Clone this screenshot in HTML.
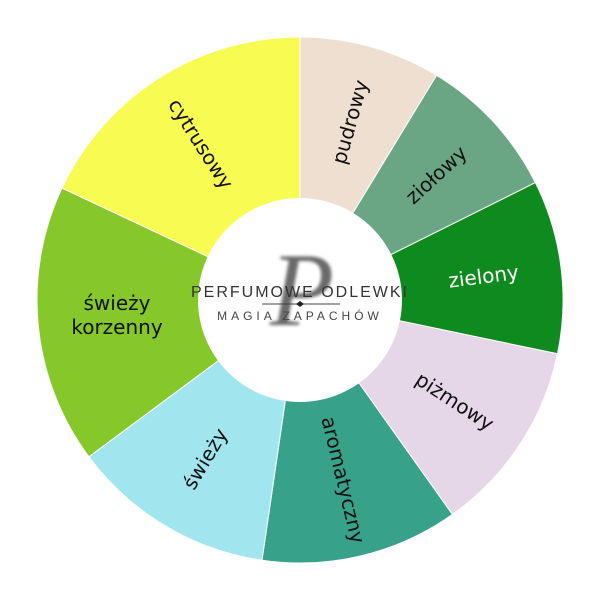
<!DOCTYPE html>
<html><head><meta charset="utf-8"><style>html,body{margin:0;padding:0;background:#fff}svg{display:block}</style></head>
<body>
<svg width="600" height="600" viewBox="0 0 600 600" xmlns="http://www.w3.org/2000/svg">
<defs><filter id="b" x="-20%" y="-20%" width="140%" height="140%"><feGaussianBlur stdDeviation="1.5"/></filter></defs>
<g stroke="#fff" stroke-width="1">
<path d="M300,300 L300,37 A263,263 0 0 1 436.6,75.3 Z" fill="#eedfd0"/>
<path d="M300,300 L436.6,75.3 A263,263 0 0 1 535.4,182.6 Z" fill="#6aa584"/>
<path d="M300,300 L535.4,182.6 A263,263 0 0 1 557.5,353.8 Z" fill="#0f8a1f"/>
<path d="M300,300 L557.5,353.8 A263,263 0 0 1 452.4,514.4 Z" fill="#e5d6e8"/>
<path d="M300,300 L452.4,514.4 A263,263 0 0 1 262.0,560.2 Z" fill="#37a18a"/>
<path d="M300,300 L262.0,560.2 A263,263 0 0 1 88.9,456.8 Z" fill="#a1e6ee"/>
<path d="M300,300 L88.9,456.8 A263,263 0 0 1 62.0,188.0 Z" fill="#86c82a"/>
<path d="M300,300 L62.0,188.0 A263,263 0 0 1 300,37 Z" fill="#f8fb52"/>
</g>
<circle cx="300" cy="300" r="102" fill="#fff"/>
<g font-family="DejaVu Sans, Liberation Sans, sans-serif" font-size="20" text-anchor="middle" dominant-baseline="central" fill="#111">
<text transform="translate(349.9,121.9) rotate(-74.35)">pudrowy</text>
<text transform="translate(436.2,174.8) rotate(-42.6)">ziołowy</text>
<text transform="translate(483.5,276.3) rotate(-7.35)" fill="#fff">zielony</text>
<text transform="translate(454.8,401.3) rotate(33.2)">piżmowy</text>
<text transform="translate(343.3,479.9) rotate(76.45)">aromatyczny</text>
<text transform="translate(205.1,458.8) rotate(-59.15)">świeży</text>
<text transform="translate(117,315)"><tspan x="0" dy="-12">świeży</tspan><tspan x="0" dy="24">korzenny</tspan></text>
<text transform="translate(200.9,143.8) rotate(57.6)">cytrusowy</text>
</g>
<g filter="url(#b)" opacity="0.8">
<text x="302" y="325" font-family="Liberation Serif, serif" font-style="italic" font-size="105" fill="#444" text-anchor="middle">P</text>
</g>
<text x="300" y="297" font-family="Liberation Sans, sans-serif" font-size="16" letter-spacing="2" fill="#333" text-anchor="middle">PERFUMOWE ODLEWKI</text>
<line x1="262" y1="304" x2="340" y2="304" stroke="#444" stroke-width="1"/>
<path d="M300,301 L304,304 L300,307 L296,304 Z" fill="#222"/>
<text x="300" y="320" font-family="Liberation Sans, sans-serif" font-size="12" letter-spacing="4" fill="#444" text-anchor="middle">MAGIA ZAPACHÓW</text>
</svg>
</body></html>
